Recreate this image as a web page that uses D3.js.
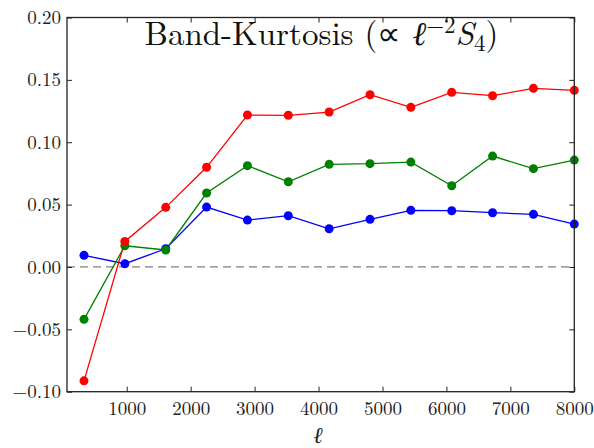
<!DOCTYPE html>
<html>
<head>
<meta charset="utf-8">
<script src="https://cdn.jsdelivr.net/npm/d3@7/dist/d3.min.js"></script>
<style>
  html, body { margin: 0; padding: 0; background: #fff; }
  svg { display: block; }
</style>
</head>
<body>
<svg id="chart" width="594" height="448"></svg>
<script>
// Multipole bin centres
const ell = [332, 971, 1610, 2249, 2888, 3527, 4166, 4805, 5444, 6083, 6722, 7361, 8000];

// Band-kurtosis per multipole bin, three realisations
const seriesBlue  = [0.0093, 0.0026, 0.0146, 0.0480, 0.0376, 0.0411, 0.0306, 0.0382, 0.0454, 0.0451, 0.0435, 0.0422, 0.0344];
const seriesGreen = [-0.0420, 0.0170, 0.0136, 0.0593, 0.0812, 0.0683, 0.0823, 0.0828, 0.0841, 0.0651, 0.0889, 0.0788, 0.0857];
const seriesRed   = [-0.0913, 0.0205, 0.0478, 0.0799, 0.1218, 0.1216, 0.1242, 0.1381, 0.1280, 0.1400, 0.1373, 0.1432, 0.1416];

const xTicks = [1000, 2000, 3000, 4000, 5000, 6000, 7000, 8000];
const yTicks = [-0.10, -0.05, 0.00, 0.05, 0.10, 0.15, 0.20];

const series = [
  { values: seriesBlue,  color: "#0000ff" },
  { values: seriesGreen, color: "#008000" },
  { values: seriesRed,   color: "#ff0000" }
];

const FONT = "Latin Modern Roman, Liberation Serif, serif";

const svg = d3.select("#chart");
const L = 67, R = 574.3, T = 17.5, B = 391.7;

const x = d3.scaleLinear().domain([66, 8000]).range([L, R]);
const y = d3.scaleLinear().domain([-0.1, 0.2]).range([B, T]);

const fmtY = v => (v < 0 ? "\u2212" : "") + Math.abs(v).toFixed(2);

// zero reference line
svg.append("line")
  .attr("x1", L).attr("x2", R)
  .attr("y1", y(0)).attr("y2", y(0))
  .attr("stroke", "#808080").attr("stroke-width", 1.2)
  .attr("stroke-dasharray", "8,5");

// series lines and markers
const line = d3.line().x((d, i) => x(ell[i])).y(d => y(d));
series.forEach(s => {
  svg.append("path")
    .attr("d", line(s.values))
    .attr("fill", "none")
    .attr("stroke", s.color)
    .attr("stroke-width", 1.3);
});
series.forEach(s => {
  svg.append("g").selectAll("circle")
    .data(s.values)
    .join("circle")
    .attr("cx", (d, i) => x(ell[i]))
    .attr("cy", d => y(d))
    .attr("r", 4.5)
    .attr("fill", s.color);
});

// axes: ticks inward on all four sides
const tickLen = 5;
const axisBottom = d3.axisBottom(x).tickValues(xTicks).tickSize(-tickLen).tickPadding(10).tickFormat(d3.format("d"));
const axisTop = d3.axisTop(x).tickValues(xTicks).tickSize(-tickLen).tickFormat("");
const axisLeft = d3.axisLeft(y).tickValues(yTicks).tickSize(-tickLen).tickPadding(6).tickFormat(fmtY);
const axisRight = d3.axisRight(y).tickValues(yTicks).tickSize(-tickLen).tickFormat("");

function styleAxis(g) {
  g.attr("font-family", FONT).attr("font-size", 19);
  g.select(".domain").remove();
  g.selectAll(".tick line").attr("stroke", "#222").attr("stroke-width", 1);
  g.selectAll(".tick text").attr("fill", "#222").attr("font-family", FONT);
}

svg.append("g").attr("transform", `translate(0,${B})`).call(axisBottom).call(styleAxis);
svg.append("g").attr("transform", `translate(0,${T})`).call(axisTop).call(styleAxis);
svg.append("g").attr("transform", `translate(${L},0)`).call(axisLeft).call(styleAxis);
svg.append("g").attr("transform", `translate(${R},0)`).call(axisRight).call(styleAxis);

// frame
svg.append("rect")
  .attr("x", L).attr("y", T)
  .attr("width", R - L).attr("height", B - T)
  .attr("fill", "none").attr("stroke", "#222").attr("stroke-width", 1.3);

// title
const title = svg.append("text")
  .attr("x", 321.5).attr("y", 45)
  .attr("text-anchor", "middle")
  .attr("font-family", FONT)
  .attr("fill", "#111")
  .attr("font-size", 33);
title.append("tspan").text("Band-Kurtosis (\u221D ");
title.append("tspan").attr("font-style", "italic").text("\u2113");
title.append("tspan").attr("font-size", 23).attr("dy", -12).text("\u22122");
title.append("tspan").attr("font-style", "italic").attr("dy", 12).text("S");
title.append("tspan").attr("font-size", 23).attr("dy", 6).text("4");
title.append("tspan").attr("dy", -6).text(")");

// x-axis label
svg.append("text")
  .attr("x", 318).attr("y", 443)
  .attr("text-anchor", "middle")
  .attr("font-family", FONT)
  .attr("fill", "#222")
  .attr("font-size", 23)
  .attr("font-style", "italic")
  .text("\u2113");
</script>
</body>
</html>
